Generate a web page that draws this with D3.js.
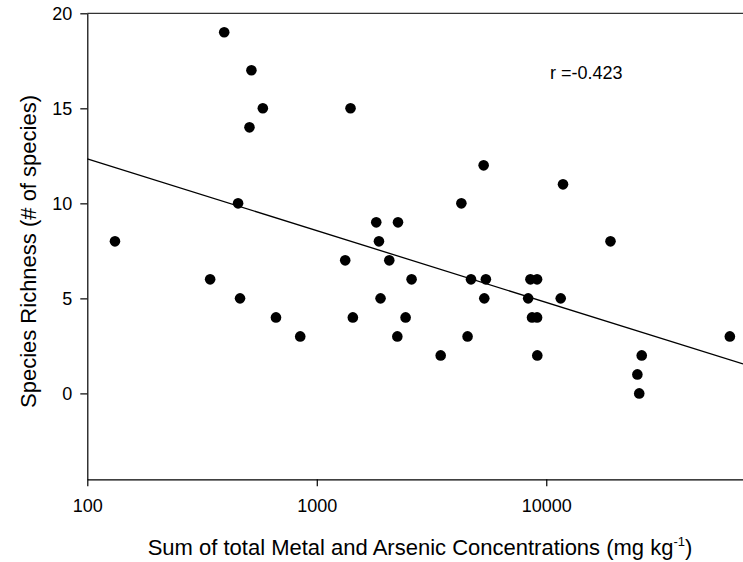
<!DOCTYPE html>
<html>
<head>
<meta charset="utf-8">
<script src="https://cdn.jsdelivr.net/npm/d3@7"></script>
<style>
html,body{margin:0;padding:0;background:#fff;}
svg{display:block;font-family:"Liberation Sans",Arial,sans-serif;}
</style>
</head>
<body>
<svg id="chart" width="743" height="562"></svg>
<script>
// Data
const concentration = [132,343,395,454,463,509,519,582,664,847,1330,1403,1436,1816,1866,1896,2070,2244,2259,2438,2589,3467,4266,4540,4699,5335,5370,5456,8340,8531,8670,9120,9120,9140,11560,11830,19050,24950,25420,26060,63100];
const richness      = [8,6,19,10,5,14,17,15,4,3,7,15,4,9,8,5,7,3,9,4,6,2,10,3,6,12,5,6,5,6,4,6,4,2,5,11,8,1,0,2,3];
const fitX = [100, 72000];
const fitY = [12.34, 1.55];
const xTicks = [100, 1000, 10000];
const yTicks = [0, 5, 10, 15, 20];
const rLabel = "r =-0.423";

const svg = d3.select("#chart");
const pLeft = 87.3, pRight = 743, pTop = 13.3, pBottom = 479.3;

const x = d3.scaleLog().domain([100, 72000]).range([pLeft, pRight]);
const y = d3.scaleLinear().domain([-4.52, 20]).range([pBottom, pTop]);

// frame top line
svg.append("line").attr("x1", pLeft).attr("x2", pRight).attr("y1", pTop).attr("y2", pTop)
  .attr("stroke", "#333").attr("stroke-width", 1.2);

const xAxis = svg.append("g").attr("transform", `translate(0,${pBottom})`)
  .call(d3.axisBottom(x).tickValues(xTicks).tickFormat(d3.format("d")).tickSize(7).tickSizeOuter(0));
const yAxis = svg.append("g").attr("transform", `translate(${pLeft},0)`)
  .call(d3.axisLeft(y).tickValues(yTicks).tickSize(7).tickSizeOuter(0));
[xAxis, yAxis].forEach(g => {
  g.select(".domain").attr("stroke", "#000").attr("stroke-width", 1.2);
  g.selectAll(".tick line").attr("stroke", "#000").attr("stroke-width", 1.2);
  g.selectAll("text").attr("font-size", 18).attr("fill", "#000")
    .attr("font-family", '"Liberation Sans",Arial,sans-serif');
});
xAxis.selectAll("text").attr("dy", null).attr("y", 33);
yAxis.selectAll("text").attr("x", -15).attr("dy", "0.35em");

// regression line
svg.append("line")
  .attr("x1", x(fitX[0])).attr("y1", y(fitY[0]))
  .attr("x2", x(fitX[1])).attr("y2", y(fitY[1]))
  .attr("stroke", "#000").attr("stroke-width", 1.3);

// points
svg.append("g").selectAll("circle")
  .data(concentration.map((c, i) => ({c, r: richness[i]})))
  .join("circle")
  .attr("cx", d => x(d.c)).attr("cy", d => y(d.r)).attr("r", 5.3).attr("fill", "#000");

// r label
svg.append("text").attr("x", 550).attr("y", 78.5).attr("font-size", 18).text(rLabel);

// axis titles
svg.append("text")
  .attr("transform", `translate(36,251.5) rotate(-90)`)
  .attr("text-anchor", "middle").attr("font-size", 22)
  .text("Species Richness (# of species)");

const xt = svg.append("text").attr("x", 420).attr("y", 555)
  .attr("text-anchor", "middle").attr("font-size", 22);
xt.append("tspan").text("Sum of total Metal and Arsenic Concentrations (mg kg");
xt.append("tspan").attr("font-size", 13).attr("dy", -9).text("-1");
xt.append("tspan").attr("dy", 9).text(")");
</script>
</body>
</html>
